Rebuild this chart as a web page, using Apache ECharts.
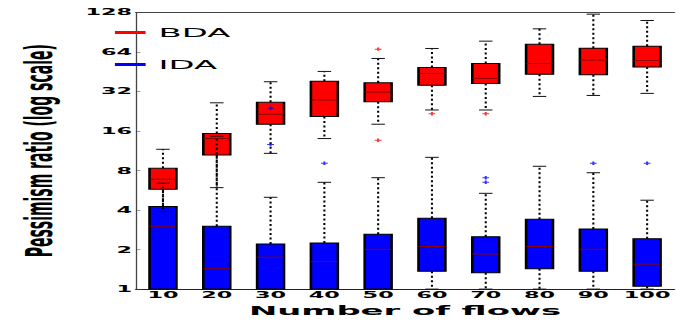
<!DOCTYPE html>
<html>
<head>
<meta charset="utf-8">
<script src="https://cdn.jsdelivr.net/npm/echarts@6/dist/echarts.min.js"></script>
<style>
  html, body { margin: 0; padding: 0; background: #fff; overflow: hidden; }
  /* the original figure is stretched horizontally, so draw narrow and widen */
  #chart { width: 260px; height: 322px; transform: scaleX(2.6); transform-origin: 0 0; }
</style>
</head>
<body>
<div id="chart"></div>
<script>
const categories = ['10', '20', '30', '40', '50', '60', '70', '80', '90', '100'];
const yTicks = [1, 2, 4, 8, 16, 32, 64, 128];

// [lower whisker, Q1, median, Q3, upper whisker]
const bdaBoxes = [
  [3.9, 5.76, 6.86, 8.3, 11.6],
  [5.92, 10.5, 14.0, 15.3, 26.2],
  [10.8, 18.0, 21.4, 26.4, 37.9],
  [14.0, 20.6, 27.5, 38.3, 45.4],
  [18.0, 26.7, 31.6, 37.2, 57.0],
  [23.1, 35.7, 43.8, 48.7, 67.9],
  [23.1, 36.8, 40.2, 52.2, 77.2],
  [29.3, 43.3, 52.2, 73.2, 95.8],
  [29.8, 42.8, 55.4, 68.3, 123.9],
  [30.9, 49.0, 55.0, 70.7, 110.9]
];
const idaBoxes = [
  [1, 1, 3.01, 4.25, 6.4],
  [1, 1, 1.43, 3.01, 14.6],
  [1, 1, 1.75, 2.2, 5.0],
  [1, 1, 1.62, 2.24, 6.5],
  [1, 1, 2.01, 2.62, 7.05],
  [1, 1.37, 2.11, 3.46, 10.07],
  [1, 1.33, 1.85, 2.5, 5.36],
  [1, 1.43, 2.11, 3.4, 8.61],
  [1, 1.37, 2.01, 2.87, 7.69],
  [1, 1.05, 1.55, 2.42, 4.75]
];
// [category index, value]
const bdaOutliers = [[4, 67.1], [4, 13.6], [5, 21.6], [6, 21.6]];
const idaOutliers = [[2, 23.8], [2, 12.6], [3, 9.07], [6, 7.05], [6, 6.5], [8, 9.07], [9, 9.07]];

const FONT = 'DejaVu Sans';
const plus = 'path://M3.5,0H6.5V3.5H10V6.5H6.5V10H3.5V6.5H0V3.5H3.5Z';

function boxRenderer(fill) {
  return function (params, api) {
    const x = api.value(0);
    const top = api.coord([x, api.value(4)]);
    const bottom = api.coord([x, api.value(2)]);
    const w = api.size([1, 0])[0] * 0.5;
    return {
      type: 'rect',
      shape: { x: top[0] - w / 2, y: top[1], width: w, height: bottom[1] - top[1] },
      style: { fill: fill, stroke: '#000', lineWidth: 1 }
    };
  };
}

function lineRenderer(params, api) {
  const x = api.value(0);
  const lo = api.coord([x, api.value(1)]);
  const q1 = api.coord([x, api.value(2)]);
  const med = api.coord([x, api.value(3)]);
  const q3 = api.coord([x, api.value(4)]);
  const hi = api.coord([x, api.value(5)]);
  const w = api.size([1, 0])[0] * 0.5;
  const cx = lo[0];
  const dash = () => ({ stroke: '#000', lineWidth: 0.8, lineDash: [2, 2.5] });
  const solid = () => ({ stroke: '#111', lineWidth: 1 });
  return {
    type: 'group',
    children: [
      { type: 'line', shape: { x1: cx, y1: q1[1], x2: cx, y2: lo[1] }, style: dash() },
      { type: 'line', shape: { x1: cx, y1: q3[1], x2: cx, y2: hi[1] }, style: dash() },
      { type: 'line', shape: { x1: cx - w / 4, y1: lo[1], x2: cx + w / 4, y2: lo[1] }, style: solid() },
      { type: 'line', shape: { x1: cx - w / 4, y1: hi[1], x2: cx + w / 4, y2: hi[1] }, style: solid() },
      { type: 'line', shape: { x1: cx - w / 2, y1: med[1], x2: cx + w / 2, y2: med[1] },
        style: { stroke: '#8b0000', lineWidth: 1 } }
    ]
  };
}

const bdaData = bdaBoxes.map((b, i) => [i].concat(b));
const idaData = idaBoxes.map((b, i) => [i].concat(b));

const chart = echarts.init(document.getElementById('chart'), null, { renderer: 'svg' });
chart.setOption({
  animation: false,
  grid: { left: 38.8, top: 12.3, width: 224.2, height: 277 },
  legend: {
    orient: 'vertical',
    left: 44.2,
    top: 26,
    padding: 0,
    itemWidth: 11.8,
    itemHeight: 3,
    itemGap: 19,
    icon: 'rect',
    selectedMode: false,
    textStyle: { fontFamily: FONT, fontSize: 13, color: '#000' },
    data: [
      { name: 'BDA', itemStyle: { color: '#ff0000' } },
      { name: 'IDA', itemStyle: { color: '#0000ff' } }
    ]
  },
  xAxis: [{
    type: 'category',
    data: categories,
    position: 'bottom',
    name: 'Number of flows',
    nameLocation: 'middle',
    nameGap: 9.5,
    nameTextStyle: { fontFamily: FONT, fontWeight: 'bold', fontSize: 13, color: '#000' },
    axisLine: { lineStyle: { color: '#222', width: 1 } },
    axisTick: { inside: true, alignWithLabel: true, length: 3, lineStyle: { color: '#222' } },
    axisLabel: { interval: 0, margin: 1, fontFamily: FONT, fontWeight: 'bold', fontSize: 8.6, color: '#000' },
    splitLine: { show: false }
  }, {
    type: 'category',
    data: categories,
    position: 'top',
    axisLine: { lineStyle: { color: '#444', width: 1 } },
    axisTick: { inside: true, alignWithLabel: true, interval: 0, length: 3, lineStyle: { color: '#444' } },
    axisLabel: { show: false },
    splitLine: { show: false }
  }],
  yAxis: {
    type: 'log',
    logBase: 2,
    min: yTicks[0],
    max: yTicks[yTicks.length - 1],
    splitNumber: yTicks.length - 1,
    name: 'Pessimism ratio (log scale)',
    nameLocation: 'middle',
    nameGap: 23.5,
    nameTextStyle: { fontFamily: FONT, fontWeight: 'bold', fontSize: 14, color: '#000' },
    axisLine: { show: true, lineStyle: { color: '#444', width: 0.5 } },
    axisTick: { show: true, inside: true, length: 1.7, lineStyle: { color: '#444', width: 0.5 } },
    axisLabel: {
      margin: 1.5, fontFamily: FONT, fontWeight: 'bold', fontSize: 8.6, color: '#000',
      formatter: (v) => String(Math.round(v))
    },
    splitLine: { show: false }
  },
  series: [
    { name: 'BDA', type: 'custom', z: 2, data: bdaData, encode: { x: 0, y: [1, 2, 3, 4, 5] },
      itemStyle: { color: '#ff0000' }, renderItem: boxRenderer('#ff0000') },
    { name: 'IDA', type: 'custom', z: 2, data: idaData, encode: { x: 0, y: [1, 2, 3, 4, 5] },
      itemStyle: { color: '#0000ff' }, renderItem: boxRenderer('#0000ff') },
    { name: 'BDA', type: 'custom', z: 3, data: bdaData, encode: { x: 0, y: [1, 2, 3, 4, 5] },
      renderItem: lineRenderer },
    { name: 'IDA', type: 'custom', z: 3, data: idaData, encode: { x: 0, y: [1, 2, 3, 4, 5] },
      renderItem: lineRenderer },
    { name: 'BDA', type: 'scatter', z: 4, data: bdaOutliers, symbol: plus, symbolSize: [2.6, 3.4],
      itemStyle: { color: '#ff0000' } },
    { name: 'IDA', type: 'scatter', z: 4, data: idaOutliers, symbol: plus, symbolSize: [2.6, 3.4],
      itemStyle: { color: '#0000ff' } }
  ]
});
</script>
</body>
</html>
